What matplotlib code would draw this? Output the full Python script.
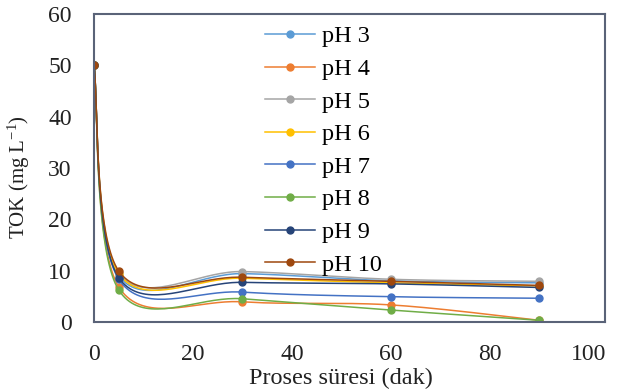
import numpy as np
import matplotlib
matplotlib.use('Agg')
from matplotlib import pyplot as plt

plt.rcParams['font.family'] = ['Liberation Serif', 'DejaVu Serif']
plt.rcParams['mathtext.default'] = 'regular'

# process time (min)
time_min = [0, 5, 30, 60, 90]

# TOC values (mg/L)
ph3 = [50, 9.0, 9.4, 8.0, 7.6]
ph4 = [50, 6.8, 3.9, 3.3, 0.3]
ph5 = [50, 9.5, 9.8, 8.3, 7.9]
ph6 = [50, 9.4, 8.5, 7.6, 7.0]
ph7 = [50, 8.3, 5.8, 4.9, 4.6]
ph8 = [50, 6.2, 4.5, 2.3, 0.3]
ph9 = [50, 8.6, 7.7, 7.4, 6.7]
ph10 = [50, 9.9, 8.7, 7.9, 7.1]

labels = ['pH 3', 'pH 4', 'pH 5', 'pH 6', 'pH 7', 'pH 8', 'pH 9', 'pH 10']
series = [ph3, ph4, ph5, ph6, ph7, ph8, ph9, ph10]
colors = ['#5B9BD5', '#ED7D31', '#A5A5A5', '#FFC000',
          '#4472C4', '#70AD47', '#264478', '#9E480E']


def smooth_line(x, y, n=40):
    # Excel-like smoothed line: cubic bezier between points
    pts = np.column_stack([x, y]).astype(float)
    out = []
    for i in range(len(pts) - 1):
        p0 = pts[max(i - 1, 0)]
        p1 = pts[i]
        p2 = pts[i + 1]
        p3 = pts[min(i + 2, len(pts) - 1)]
        c1 = p1 + (p2 - p0) / 6
        c2 = p2 - (p3 - p1) / 6
        t = np.linspace(0, 1, n)[:, None]
        seg = ((1 - t) ** 3) * p1 + 3 * ((1 - t) ** 2) * t * c1 \
            + 3 * (1 - t) * t ** 2 * c2 + t ** 3 * p2
        out.append(seg if i == 0 else seg[1:])
    out = np.vstack(out)
    return out[:, 0], out[:, 1]


fig = plt.figure(figsize=(6.27, 3.92), dpi=100)
ax = fig.add_axes([0.150, 0.179, 0.815, 0.785])

for vals, lab, col in zip(series, labels, colors):
    sx, sy = smooth_line(time_min, vals)
    ax.plot(sx, sy, color=col, lw=1.1)
    ax.plot(time_min, vals, 'o', color=col, ms=5)
    # proxy for legend
    ax.plot([], [], '-o', color=col, lw=1.1, ms=5, label=lab)

ax.set_xlim(0, 103.3)
ax.set_ylim(0, 60)
ax.set_xticks([0, 20, 40, 60, 80, 100])
ax.set_yticks([0, 10, 20, 30, 40, 50, 60])
ax.tick_params(length=0, labelsize=17, colors='#222222')
ax.tick_params(axis='x', pad=16)
ax.tick_params(axis='y', pad=16)
for sp in ax.spines.values():
    sp.set_color('#5a6378')
    sp.set_linewidth(1.5)

ax.set_xlabel('Proses süresi (dak)', fontsize=17.5, color='#222222')
ax.xaxis.set_label_coords(50 / 103.3, -0.15)
ax.set_ylabel('TOK (mg L$^{-1}$)', fontsize=15, color='#222222')
ax.yaxis.set_label_coords(-0.121, 0.47)

handles, labs = ax.get_legend_handles_labels()
ax.legend(handles[-8:], labs[-8:], loc='upper left', bbox_to_anchor=(0.4226, 0.935),
          bbox_transform=fig.transFigure, frameon=False, fontsize=17.5,
          handlelength=2.05, handletextpad=0.28, labelspacing=0.435,
          borderpad=0, borderaxespad=0)

fig.savefig('out.png', dpi=100)
